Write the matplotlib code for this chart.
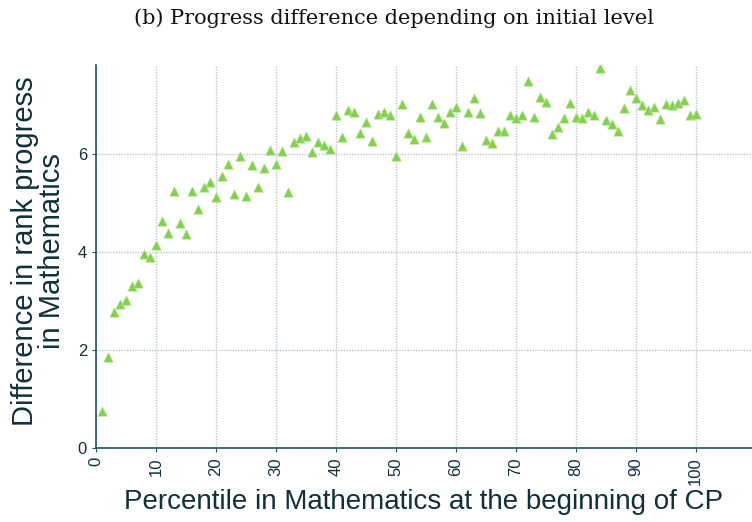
import numpy as np
import matplotlib
matplotlib.use("Agg")
import matplotlib.pyplot as plt

# Percentile at the start of CP (1..100) and mean rank-progress gap
percentile = list(range(1, 101))
rank_diff = [
    0.75, 1.85, 2.77, 2.93, 3.02, 3.31, 3.37, 3.97, 3.89, 4.14,
    4.63, 4.38, 5.24, 4.60, 4.37, 5.24, 4.88, 5.32, 5.43, 5.12,
    5.55, 5.79, 5.18, 5.97, 5.14, 5.77, 5.32, 5.71, 6.08, 5.80,
    6.07, 5.23, 6.25, 6.33, 6.37, 6.05, 6.25, 6.18, 6.10, 6.80,
    6.34, 6.91, 6.85, 6.44, 6.66, 6.26, 6.81, 6.86, 6.80, 5.97,
    7.03, 6.44, 6.31, 6.76, 6.34, 7.02, 6.75, 6.64, 6.86, 6.97,
    6.17, 6.85, 7.15, 6.83, 6.29, 6.22, 6.47, 6.48, 6.80, 6.74,
    6.80, 7.49, 6.75, 7.16, 7.07, 6.42, 6.56, 6.74, 7.05, 6.75,
    6.73, 6.86, 6.80, 7.75, 6.69, 6.61, 6.48, 6.95, 7.30, 7.14,
    7.00, 6.90, 6.97, 6.72, 7.02, 7.01, 7.05, 7.10, 6.80, 6.82,
]
xticks = list(range(0, 101, 10))
yticks = [0, 2, 4, 6]

axis_col = "#1d5567"
text_col = "#10303b"
grid_col = "#b9c5cc"
label_font = ["Liberation Sans", "DejaVu Sans"]

fig = plt.figure(figsize=(7.52, 5.22), dpi=100)
ax = fig.add_axes([0.1277, 0.1418, 0.8723, 0.7337])

ax.scatter(percentile, rank_diff, marker="^", s=46, color="#82d04c",
           edgecolors="#b6e596", linewidths=0.5, zorder=3)

ax.set_xlim(0, 109.4)
ax.set_ylim(0, 7.82)
ax.set_xticks(xticks)
ax.set_yticks(yticks)
ax.set_xticklabels([str(t) for t in xticks], rotation=90)

ax.grid(True, linestyle=(0, (1, 1)), color=grid_col, linewidth=1.0, zorder=0)
for side in ["top", "right"]:
    ax.spines[side].set_visible(False)
for side in ["left", "bottom"]:
    ax.spines[side].set_color(axis_col)
    ax.spines[side].set_linewidth(1.2)

ax.tick_params(axis="both", colors=axis_col, length=3, width=0.8,
               labelcolor=text_col, labelsize=12)
for lbl in ax.get_xticklabels() + ax.get_yticklabels():
    lbl.set_family(label_font)

ax.set_xlabel("Percentile in Mathematics at the beginning of CP",
              fontsize=20, color=text_col, family=label_font, labelpad=3)
ax.set_ylabel("Difference in rank progress\nin Mathematics",
              fontsize=21, color=text_col, family=label_font,
              linespacing=0.95)
ax.yaxis.set_label_coords(-0.046, 0.515)

fig.text(0.524, 0.965, "(b) Progress difference depending on initial level",
         ha="center", va="center", fontsize=15, color="#111111",
         family=["DejaVu Serif"])

fig.savefig("out.png", dpi=100)
